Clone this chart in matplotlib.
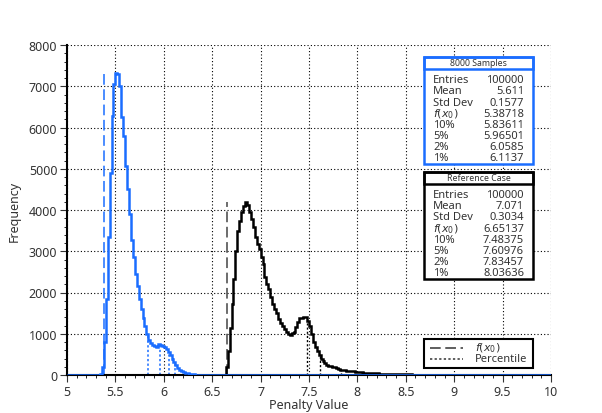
import numpy as np
import matplotlib
matplotlib.use("Agg")
import matplotlib.pyplot as plt
from matplotlib.patches import Rectangle
from matplotlib.lines import Line2D

plt.rcParams['font.family'] = ['Noto Sans', 'DejaVu Sans']
plt.rcParams['mathtext.fontset'] = 'dejavusans'

# histogram binning (0.02 wide bins from 5 to 10)
x_min, x_max, bin_w = 5.0, 10.0, 0.02

# 8000 samples histogram (blue), first bin starts at 5.34
blue_start = 5.34
blue_counts = [30, 200, 800, 1850, 3350, 4900, 6270, 7050, 7320, 7300,
               7000, 6250, 5800, 5070, 4500, 3900, 3270, 2870, 2460, 2150,
               1850, 1600, 1380, 1190, 1000, 840, 780, 730, 710, 690,
               740, 720, 700, 680, 620, 560, 480, 390, 310, 240,
               170, 125, 95, 70, 50, 38, 28, 20, 15, 11,
               8, 6, 4, 3, 2, 1]

# reference case histogram (black), first bin starts at 6.64
black_start = 6.64
black_counts = [190, 590, 1150, 1720, 2330, 3010, 3500, 3740, 3950, 4100,
                4190, 4120, 3950, 3780, 3580, 3340, 3180, 3060, 2850, 2690,
                2370, 2200, 2080, 1900, 1720, 1600, 1500, 1360, 1260, 1180,
                1110, 1050, 990, 960, 1030, 1040, 1160, 1280, 1380, 1370,
                1410, 1400, 1320, 1190, 1000, 800, 680, 590, 490, 400,
                330, 280, 250, 230, 215, 200, 185, 160, 140, 125,
                118, 112, 106, 100, 95, 90, 85, 80, 75, 70,
                62, 58, 55, 52, 49, 46, 43, 41, 38, 36,
                34, 32, 30, 28, 26, 25, 23, 22, 20, 19,
                18, 17, 16, 15, 14, 13, 12, 11, 10, 9,
                9, 8, 7, 7, 6, 6, 5, 5, 4, 4,
                4, 3, 3, 3, 2, 2, 2, 2, 1, 1]

# stats boxes
row_names = ['Entries', 'Mean', 'Std Dev', '$f(x_0)$', '10%', '5%', '2%', '1%']
blue_stats = ['100000', '5.611', '0.1577', '5.38718', '5.83611', '5.96501', '6.0585', '6.1137']
black_stats = ['100000', '7.071', '0.3034', '6.65137', '7.48375', '7.60976', '7.83457', '8.03636']
blue_f0 = 5.38718
blue_pct = [5.83611, 5.96501, 6.0585, 6.1137]
black_f0 = 6.65137
black_pct = [7.48375, 7.60976, 7.83457, 8.03636]

BLUE = '#1a6dff'
TXT = '#333333'
W, H = 602, 414
nbins = int(round((x_max - x_min) / bin_w))
edges = np.linspace(x_min, x_max, nbins + 1)


def full_hist(start, counts):
    h = np.zeros(nbins)
    i0 = int(round((start - x_min) / bin_w))
    h[i0:i0 + len(counts)] = counts
    return h


h_blue = full_hist(blue_start, blue_counts)
h_black = full_hist(black_start, black_counts)


def height_at(h, x):
    i = int((x - x_min) / bin_w)
    return h[i]


fig = plt.figure(figsize=(6.02, 4.14), dpi=100)
ax = fig.add_axes([67/W, 1 - 376/H, 484/W, 330/H])

ax.stairs(h_black, edges, color='black', linewidth=1.8, zorder=3)
ax.stairs(h_blue, edges, color=BLUE, linewidth=1.8, zorder=3)

# f(x0) dashed lines
ax.plot([blue_f0, blue_f0], [0, h_blue.max()], color=BLUE, lw=1.1, dashes=(7, 3), zorder=2)
ax.plot([black_f0, black_f0], [0, h_black.max()], color='#444444', lw=1.1, dashes=(7, 3), zorder=2)

# percentile dotted lines
for p in blue_pct:
    ax.plot([p, p], [0, height_at(h_blue, p)], color=BLUE, lw=1.1, ls=(0, (1.5, 1.5)), zorder=2)
for p in black_pct:
    ax.plot([p, p], [0, height_at(h_black, p)], color='black', lw=1.0, ls=(0, (1.5, 1.5)), zorder=2)

ax.set_xlim(5, 10)
ax.set_ylim(0, 8000)
ax.set_xticks(np.arange(5, 10.01, 0.5))
ax.set_xticklabels(['%g' % v for v in np.arange(5, 10.01, 0.5)])
ax.set_xticks(np.arange(5, 10.01, 0.1), minor=True)
ax.set_yticks(np.arange(0, 8001, 1000))
ax.set_yticks(np.arange(0, 8001, 200), minor=True)
ax.tick_params(which='major', direction='out', length=5, labelsize=9, colors=TXT, pad=2)
ax.tick_params(which='minor', direction='out', length=2.5)
ax.grid(True, which='major', color='black', ls=(0, (1, 2)), lw=0.8)
ax.spines['top'].set_visible(False)
ax.spines['right'].set_visible(False)
ax.spines['left'].set_linewidth(1.5)
ax.spines['bottom'].set_linewidth(1.5)
ax.set_xlabel('Penalty Value', fontsize=9, color=TXT, labelpad=0)
ax.set_ylabel('Frequency', fontsize=9, color=TXT, labelpad=6)


def stat_box(top_px, title, values, color):
    x0, x1 = 424, 533
    head_h, row_h = 12, 11.2
    bottom_px = top_px + head_h + 8 * row_h + 5
    fig.patches.append(Rectangle((x0/W, 1 - bottom_px/H), (x1-x0)/W, (bottom_px-top_px)/H,
                                 transform=fig.transFigure, fill=True, facecolor='white',
                                 edgecolor=color, lw=1.8, zorder=10))
    fig.patches.append(Rectangle((x0/W, 1 - (top_px+head_h)/H), (x1-x0)/W, head_h/H,
                                 transform=fig.transFigure, fill=False,
                                 edgecolor=color, lw=1.8, zorder=11))
    fig.text((x0+x1)/2/W, 1 - (top_px + head_h/2)/H, title, ha='center', va='center',
             fontsize=6.3, color=TXT, zorder=12)
    for k, (name, val) in enumerate(zip(row_names, values)):
        y = 1 - (top_px + head_h + 5 + row_h * (k + 0.5))/H
        fig.text(433/W, y, name, ha='left', va='center', fontsize=8, color=TXT, zorder=12)
        fig.text(524/W, y, val, ha='right', va='center', fontsize=8, color=TXT, zorder=12)


stat_box(58, '8000 Samples', blue_stats, BLUE)
stat_box(173, 'Reference Case', black_stats, 'black')

# legend box drawn by hand
lx0, lx1, ly0, ly1 = 424, 533, 340, 369
fig.patches.append(Rectangle((lx0/W, 1 - ly1/H), (lx1-lx0)/W, (ly1-ly0)/H,
                             transform=fig.transFigure, facecolor='white',
                             edgecolor='black', lw=1.5, zorder=10))
leg_rows = [('$f(x_0)$', dict(dashes=(7, 3))), ('Percentile', dict(ls=(0, (1.5, 1.5))))]
for k, (lab, style) in enumerate(leg_rows):
    y = 1 - (348.5 + 11 * k)/H
    fig.lines.append(Line2D([430/W, 463/W], [y, y], transform=fig.transFigure,
                            color=TXT, lw=1.1, zorder=12, **style))
    fig.text(475/W, y, lab, ha='left', va='center', fontsize=8, color=TXT, zorder=12)

fig.savefig('out.png', dpi=100)
